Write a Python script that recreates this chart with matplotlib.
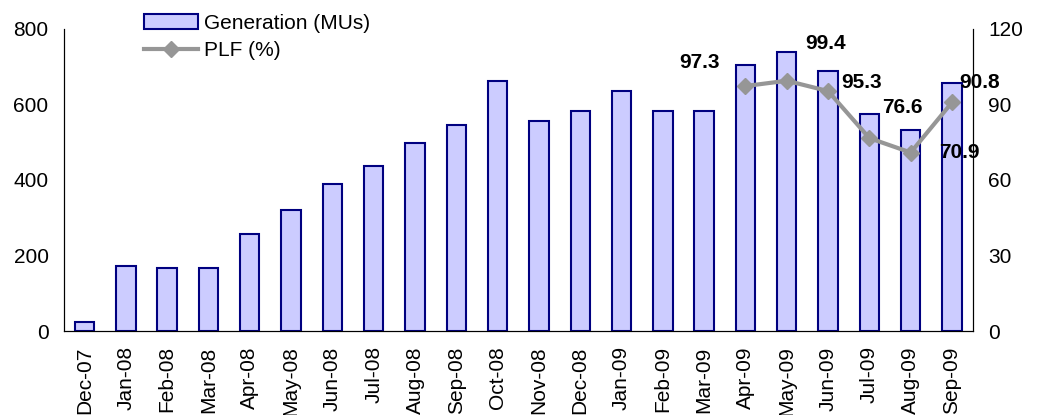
import matplotlib.pyplot as plt
import numpy as np

plt.rcParams['font.family'] = ['Liberation Sans', 'DejaVu Sans']

# Datos
meses = ['Dec-07', 'Jan-08', 'Feb-08', 'Mar-08', 'Apr-08', 'May-08', 'Jun-08',
         'Jul-08', 'Aug-08', 'Sep-08', 'Oct-08', 'Nov-08', 'Dec-08', 'Jan-09',
         'Feb-09', 'Mar-09', 'Apr-09', 'May-09', 'Jun-09', 'Jul-09', 'Aug-09',
         'Sep-09']
generacion = [24, 173, 168, 168, 257, 320, 389, 437, 498, 546, 662, 556,
              583, 636, 583, 583, 705, 740, 689, 575, 532, 657]
plf_meses = ['Apr-09', 'May-09', 'Jun-09', 'Jul-09', 'Aug-09', 'Sep-09']
plf = [97.3, 99.4, 95.3, 76.6, 70.9, 90.8]

x = np.arange(len(meses))
x_plf = np.array([meses.index(m) for m in plf_meses])

fig = plt.figure(figsize=(10.47, 4.15), dpi=100)
ax = fig.add_axes([0.061, 0.2024, 0.868, 0.728])
ax.bar(x, generacion, width=0.47, color='#CCCCFF', edgecolor='#000080',
       linewidth=1.5, label='Generation (MUs)')
ax.set_xlim(-0.5, len(meses) - 0.5)
ax.set_ylim(0, 800)
ax.set_yticks([0, 200, 400, 600, 800])
ax.set_xticks(x)
ax.set_xticklabels(meses, rotation=90)
ax.tick_params(axis='both', length=0, labelsize=15, pad=11)
ax.spines['top'].set_visible(False)

ax2 = ax.twinx()
ax2.plot(x_plf, plf, color='#969696', linewidth=3, marker='D', markersize=8,
         label='PLF (%)')
ax2.set_ylim(0, 120)
ax2.set_yticks([0, 30, 60, 90, 120])
ax2.tick_params(axis='y', length=0, labelsize=15, pad=11)
ax2.spines['top'].set_visible(False)

# Etiquetas de PLF
offsets = [(-33, 17), (28, 27), (24, 6), (24, 22), (35, 0), (20, 14)]
for xi, v, off in zip(x_plf, plf, offsets):
    ax2.annotate(f'{v}', (xi, v), xytext=off, textcoords='offset points',
                 ha='center', va='center', fontsize=15, fontweight='bold',
                 annotation_clip=False)

h1, l1 = ax.get_legend_handles_labels()
h2, l2 = ax2.get_legend_handles_labels()
ax.legend(h1 + h2, l1 + l2, loc='upper left', bbox_to_anchor=(0.079, 1.077),
          frameon=False, fontsize=15, handlelength=2.6, handletextpad=0.3,
          labelspacing=0.4, borderaxespad=0)

fig.savefig('out.png', dpi=100)
